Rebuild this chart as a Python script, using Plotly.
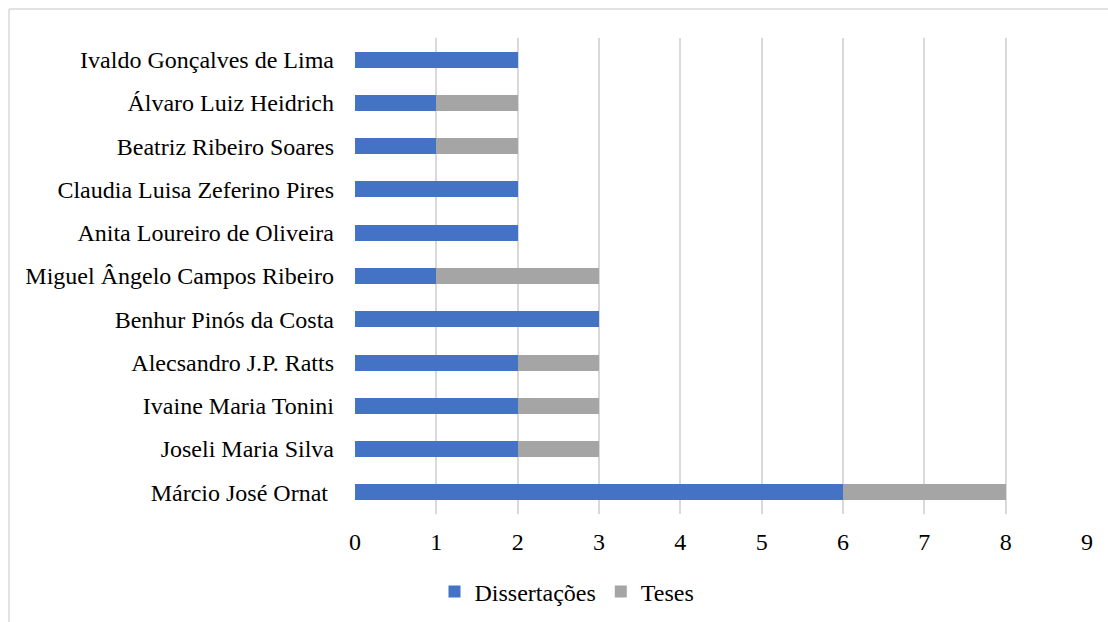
import plotly.graph_objects as go

# Orientadores (listed bottom to top, as drawn on the category axis)
orientadores = [
    "Márcio José Ornat ",
    "Joseli Maria Silva",
    "Ivaine Maria Tonini",
    "Alecsandro J.P. Ratts",
    "Benhur Pinós da Costa",
    "Miguel Ângelo Campos Ribeiro",
    "Anita Loureiro de Oliveira",
    "Claudia Luisa Zeferino Pires",
    "Beatriz Ribeiro Soares",
    "Álvaro Luiz Heidrich",
    "Ivaldo Gonçalves de Lima",
]
dissertacoes = [6, 2, 2, 2, 3, 1, 2, 2, 1, 1, 2]
teses = [2, 1, 1, 1, 0, 2, 0, 0, 1, 1, 0]
x_ticks = [0, 1, 2, 3, 4, 5, 6, 7, 8, 9]

W, H = 1108, 622
ML, MR, MT, MB = 355, 21, 38, 108
PW, PH = W - ML - MR, H - MT - MB


def px_to_paper_x(px):
    return (px - ML) / PW


def px_to_paper_y(py):
    return (H - MB - py) / PH


FONT = "Liberation Serif, Times New Roman, serif"
FS = 24

fig = go.Figure()
fig.add_trace(go.Bar(
    y=orientadores, x=dissertacoes, orientation="h", name="Dissertações",
    marker=dict(color="#4472C4", line=dict(width=0)),
))
fig.add_trace(go.Bar(
    y=orientadores, x=teses, orientation="h", name="Teses",
    marker=dict(color="#A5A5A5", line=dict(width=0)),
))

# chart-area border (top and left edges)
border = dict(color="#D9D9D9", width=1.5)
fig.add_shape(type="line", xref="paper", yref="paper",
              x0=px_to_paper_x(9), x1=px_to_paper_x(1120),
              y0=px_to_paper_y(9), y1=px_to_paper_y(9), line=border)
fig.add_shape(type="line", xref="paper", yref="paper",
              x0=px_to_paper_x(9), x1=px_to_paper_x(9),
              y0=px_to_paper_y(9), y1=px_to_paper_y(640), line=border)

fig.update_layout(
    width=W, height=H,
    margin=dict(l=ML, r=MR, t=MT, b=MB, autoexpand=False),
    barmode="stack",
    bargap=0.63,
    plot_bgcolor="white",
    paper_bgcolor="white",
    font=dict(family=FONT, size=FS, color="#000000"),
    showlegend=True,
    legend=dict(
        orientation="h",
        xref="container", yref="container",
        x=567 / W, xanchor="center",
        y=1 - 592 / H, yanchor="middle",
        font=dict(family=FONT, size=FS, color="#000000"),
        itemwidth=30,
        traceorder="normal",
    ),
    xaxis=dict(
        range=[0, 9],
        tickvals=x_ticks,
        showgrid=True, gridcolor="#D9D9D9", gridwidth=1.5,
        zeroline=False,
        showline=False,
        ticks="",
        ticklabelstandoff=11,
        tickfont=dict(family=FONT, size=FS, color="#000000"),
        automargin=False,
        fixedrange=True,
    ),
    yaxis=dict(
        type="category",
        categoryorder="array", categoryarray=orientadores,
        showgrid=False, zeroline=False, showline=False,
        ticks="",
        ticklabelstandoff=20,
        tickfont=dict(family=FONT, size=FS, color="#000000"),
        automargin=False,
        fixedrange=True,
    ),
)

fig.write_html("out.html")
